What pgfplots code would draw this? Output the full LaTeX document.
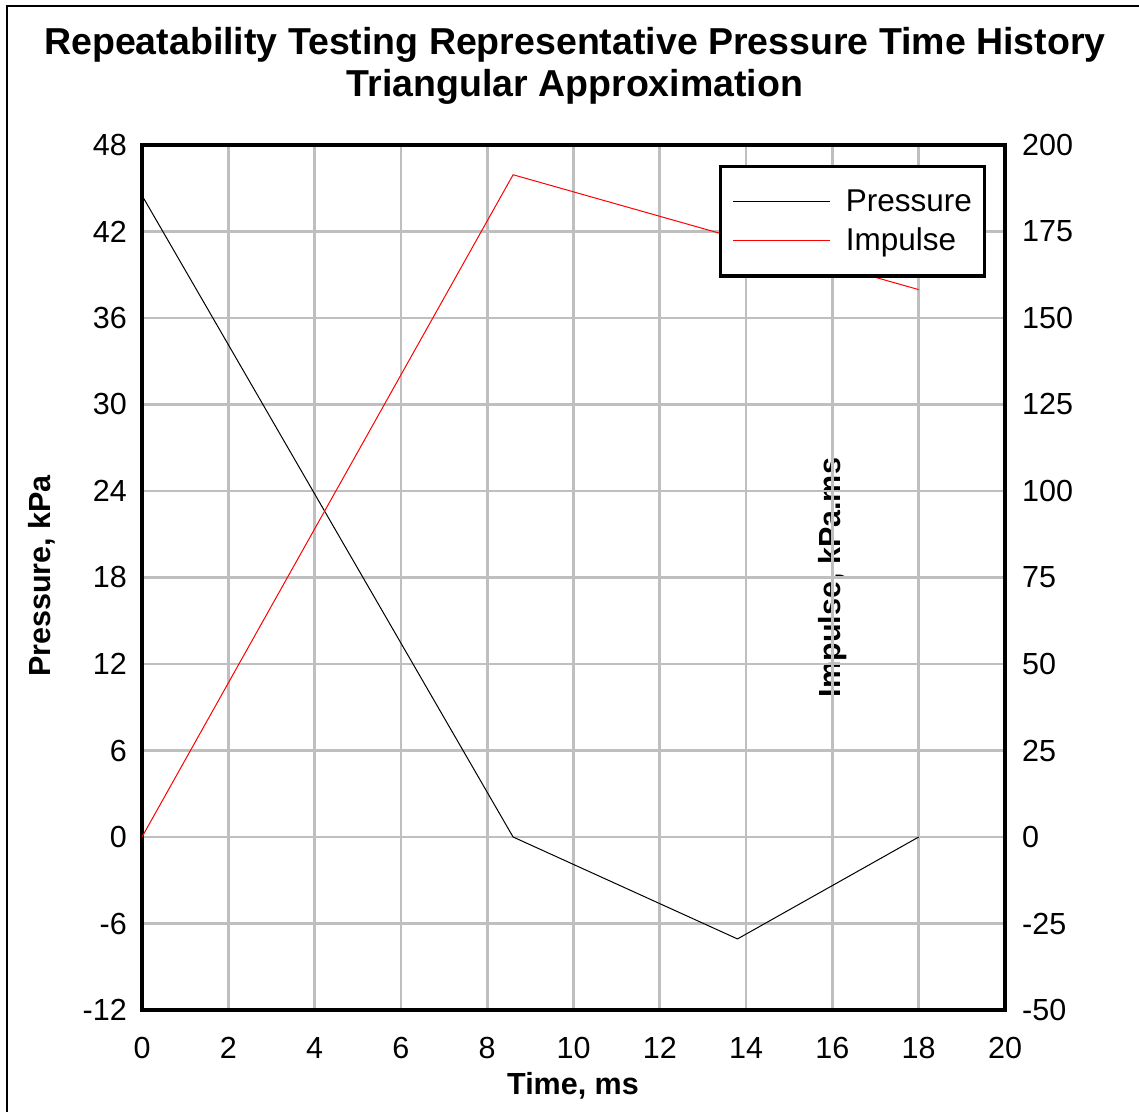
\documentclass[border=0pt]{standalone}
\usepackage{fontspec}
\setmainfont{Liberation Sans}
\usepackage{pgfplots}
\pgfplotsset{compat=1.18}

\newcommand{\tickfont}{\fontsize{30.5}{30.5}\selectfont}
\newcommand{\legendfont}{\fontsize{31.5}{31.5}\selectfont}
\newcommand{\labelfont}{\bfseries\fontsize{30.5}{30.5}\selectfont}
\newcommand{\titlefont}{\bfseries\fontsize{37.5}{37.5}\selectfont}

\pgfplotsset{
  common/.style={
    at={(142pt,101pt)}, anchor=south west,
    scale only axis, width=863pt, height=865pt,
    xmin=0, xmax=20,
    major tick length=0pt,
    axis line style={line width=4pt},
    ticklabel style={font=\tickfont},
    /pgf/number format/assume math mode=true,
  },
}

\begin{document}
\begin{tikzpicture}[x=1pt,y=1pt]
\useasboundingbox (0pt,0pt) rectangle (1139pt,1111pt);
% outer frame
\draw[line width=2pt] (7pt,-10pt) -- (7pt,1105pt) -- (1150pt,1105pt);

% title
\node[anchor=base, inner sep=0, font=\titlefont] at (575pt,1056pt)
  {Repeatability Testing Representative Pressure Time History};
\node[anchor=base, inner sep=0, font=\titlefont] at (575pt,1014pt)
  {Triangular Approximation};

% right-hand axis title, set beneath the grid
\node[rotate=90, anchor=base, inner sep=0, font=\labelfont] at (840pt,533.5pt)
  {Impulse, kPa.ms};

% pressure (left axis)
\begin{axis}[common,
  ymin=-12, ymax=48,
  xtick={0,2,...,20}, ytick={-12,-6,...,48},
  grid=major,
  major grid style={line width=2.7pt, color=gray!50},
  yticklabel style={anchor=east, inner sep=0pt, xshift=-15pt},
  xticklabel style={anchor=north, inner sep=0pt, yshift=-27pt},
]
\addplot[black, line width=1pt] coordinates {
  (0,44.5) (8.6,0) (13.8,-7.07) (18,0)
};
\end{axis}

% impulse (right axis)
\begin{axis}[common,
  ymin=-50, ymax=200,
  ytick={-50,-25,...,200},
  axis y line*=right, axis x line=none,
  yticklabel style={anchor=west, inner sep=0pt, xshift=17pt},
  legend style={
    at={(0.978,0.977)}, anchor=north east,
    draw=black, line width=3.3pt, fill=white,
    inner xsep=12.5pt, inner ysep=23.75pt,
    nodes={inner sep=0pt, font=\legendfont, anchor=west},
    row sep=14.5pt, column sep=15pt,
  },
  legend cell align=left,
  legend image code/.code={\draw[#1] (0pt,0pt) -- (97pt,0pt);},
]
\addlegendimage{black, line width=1pt}
\addlegendentry{Pressure}
\addplot[red, line width=1pt] coordinates {
  (0,0) (8.6,191.4) (18,158.2)
};
\addlegendentry{Impulse}
\end{axis}

\node[anchor=base, inner sep=0, font=\labelfont] at (573pt,17pt) {Time, ms};
\node[rotate=90, anchor=base, inner sep=0, font=\labelfont] at (50pt,535pt) {Pressure, kPa};
\end{tikzpicture}
\end{document}
